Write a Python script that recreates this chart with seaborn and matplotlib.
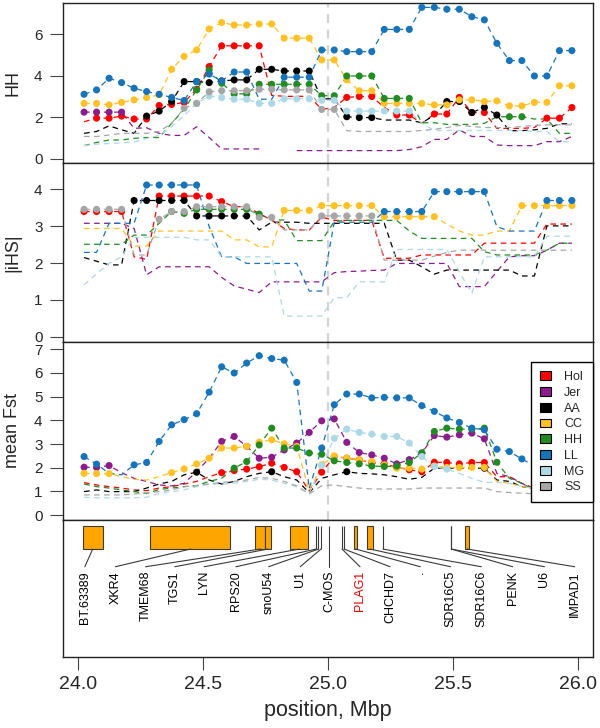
import numpy as np
import pandas as pd
import matplotlib
matplotlib.use("Agg")
import matplotlib.pyplot as plt
import seaborn as sns
from matplotlib.patches import Patch, Rectangle

NAN = np.nan

# window centres, Mbp
POS = [24.025, 24.075, 24.125, 24.175, 24.225, 24.275, 24.325, 24.375, 24.425, 24.475,
       24.525, 24.575, 24.625, 24.675, 24.725, 24.775, 24.825, 24.875, 24.925, 24.975,
       25.025, 25.075, 25.125, 25.175, 25.225, 25.275, 25.325, 25.375, 25.425, 25.475,
       25.525, 25.575, 25.625, 25.675, 25.725, 25.775, 25.825, 25.875, 25.925, 25.975]

BREEDS = ["Hol", "Jer", "AA", "CC", "HH", "LL", "MG", "SS"]
BREED_COLORS = ["#ff0000", "#8b1c8b", "#000000", "#ffc125",
                "#228b22", "#1874b8", "#add8e6", "#a6a6a6"]

# ---- HH (haplotype homozygosity) ----
HOL_HOM = [1.79, 1.96, 1.96, 2.06, 1.92, 1.92, 2.57, 2.62, 2.72, 3.35,
           4.44, 5.44, 5.44, 5.44, 5.44, 3.06, 3.01, 3.01, 3.01, 2.38,
           2.48, 2.96, 3.0, 3.0, 2.48, 2.11, 2.11, 1.71, 2.16, 2.16,
           2.96, 2.23, 2.23, 1.47, 1.47, 1.47, 1.51, 1.96, 1.96, 2.47]
JER_HOM = [2.25, 2.25, 2.25, 2.25, 1.47, 1.5, 1.23, 1.13, 1.13, 1.55,
           1.03, 0.48, 0.48, 0.48, 0.48, NAN, NAN, 0.4, 0.4, 0.4,
           0.4, 0.4, 0.4, 0.4, 0.4, 0.4, 0.45, 0.59, 0.94, 0.94,
           1.4, 1.08, 1.08, 0.67, 0.64, 0.64, 0.64, 0.83, 0.83, 1.08]
AA_HOM = [1.23, 1.32, 1.59, 1.4, 1.23, 2.06, 2.3, 2.76, 3.72, 3.72,
          3.67, 3.75, 3.8, 3.8, 4.31, 4.31, 4.23, 4.23, 4.23, 2.89,
          2.89, 2.03, 1.99, 1.99, 1.87, 1.87, 1.87, 1.74, 2.09, 2.76,
          2.76, 2.23, 2.48, 2.11, 1.36, 1.36, 1.4, 1.47, 1.69, 1.69]
CC_HOM = [2.67, 2.67, 2.6, 2.72, 2.84, 2.95, 3.08, 4.31, 4.93, 5.24,
          6.25, 6.56, 6.44, 6.44, 6.49, 6.49, 5.81, 5.81, 5.81, 4.76,
          4.76, 3.8, 3.28, 3.28, 2.67, 2.67, 2.67, 2.67, 2.6, 2.6,
          2.84, 2.84, 2.76, 2.79, 2.55, 2.55, 2.72, 2.72, 3.52, 3.52]
HH_HOM = [0.64, 0.79, 0.91, 0.91, 0.99, 1.03, 1.03, 1.71, 2.38, 3.32,
          4.28, 3.64, 3.13, 3.13, 3.59, 3.59, 3.59, 3.59, 3.59, 3.04,
          3.04, 3.99, 3.99, 3.99, 2.91, 2.91, 2.91, 1.74, 1.74, 1.66,
          1.66, 1.66, 1.71, 2.03, 2.03, 2.03, 1.92, 1.92, 1.23, 1.23]
LL_HOM = [3.11, 3.32, 3.88, 3.67, 3.4, 3.24, 3.11, 2.96, 2.81, 3.72,
          4.08, 3.75, 4.18, 4.18, 2.87, 2.87, 3.93, 3.93, 3.93, 5.24,
          5.24, 5.16, 5.16, 5.16, 6.23, 6.23, 6.23, 7.29, 7.29, 7.2,
          7.2, 6.84, 6.69, 5.56, 4.73, 4.73, 3.99, 3.99, 5.21, 5.21]
MG_HOM = [0.64, 0.71, 0.74, 0.77, 0.82, 0.98, 1.14, 1.55, 2.09, 2.67,
          3.03, 2.95, 2.87, 2.87, 2.67, 2.67, 2.89, 2.89, 2.89, 2.82,
          2.82, 2.3, 2.3, 2.3, 2.3, 2.3, 2.3, 1.71, 1.37, 1.37,
          1.37, 1.37, 1.37, 1.37, 1.37, 1.37, 1.32, 1.32, 0.83, 0.83]
SS_HOM = [1.08, 1.08, 1.15, 1.23, 1.23, 1.23, 1.32, 1.71, 2.44, 2.67,
          3.23, 3.28, 3.28, 3.28, 3.35, 3.35, 3.32, 3.32, 3.32, 2.38,
          2.38, 1.36, 1.32, 1.32, 1.32, 1.32, 1.32, 1.37, 1.42, 1.51,
          1.61, 1.56, 1.51, 1.51, 1.51, 1.56, 1.61, 1.64, 1.64, 1.64]

# significant windows (1 = dot drawn), 10 windows per group
HOL_HOM_SIG = "0111111111 1111100000 0111011011 1110000111"
JER_HOM_SIG = "1111000000 0000000000 0000000000 0000000000"
AA_HOM_SIG = "0000011111 1111111110 0111000001 1111000000"
CC_HOM_SIG = "1111111111 1111111111 1111111111 1111111111"
HH_HOM_SIG = "0000000001 1111111111 1111111000 0000110000"
LL_HOM_SIG = "1111111111 1111001111 1111111111 1111111111"
MG_HOM_SIG = "0000000001 1111111111 1111111000 0000000000"
SS_HOM_SIG = "0000000011 1111111111 1000000000 0000000000"

# ---- |iHS| ----
HOL_IHS = [3.4, 3.4, 3.4, 3.4, 2.17, 2.1, 3.82, 3.82, 3.82, 3.82,
           3.82, 3.67, 3.53, 3.53, 3.35, 3.16, 2.94, 2.9, 2.9, 3.25,
           3.16, 3.16, 3.16, 3.16, 2.13, 2.13, 2.13, 2.22, 2.22, 2.22,
           2.22, 2.22, 2.54, 2.54, 2.54, 2.54, 2.54, 3.06, 3.06, 3.06]
JER_IHS = [3.08, 3.08, 3.08, 3.08, 2.94, 1.68, 1.9, 1.9, 1.9, 1.9,
           1.9, 1.61, 1.38, 1.29, 1.2, 1.49, 1.49, 1.49, 1.49, 1.49,
           1.74, 1.77, 1.78, 1.8, 1.81, 1.99, 1.99, 1.99, 1.99, 1.99,
           1.36, 1.36, 1.36, 1.77, 2.17, 2.2, 2.2, 2.35, 2.54, 2.54]
AA_IHS = [2.15, 2.05, 1.95, 1.95, 3.7, 3.7, 3.7, 3.7, 3.7, 3.28,
          3.28, 3.28, 3.28, 3.28, 2.9, 3.11, 3.11, 3.11, 3.08, 3.08,
          3.08, 3.08, 3.08, 3.08, 3.08, 2.08, 2.08, 1.9, 1.7, 1.81,
          1.81, 1.81, 1.81, 1.81, 1.81, 1.65, 1.65, 3.01, 3.01, 3.01]
CC_IHS = [2.94, 2.94, 2.94, 2.94, 2.46, 2.46, 2.87, 2.87, 2.87, 2.87,
          2.87, 2.87, 2.63, 2.63, 2.44, 2.44, 3.43, 3.43, 3.43, 3.56,
          3.56, 3.56, 3.56, 3.56, 3.26, 3.26, 3.26, 3.26, 3.26, 3.06,
          2.87, 2.76, 2.76, 2.87, 2.87, 3.56, 3.56, 3.56, 3.56, 3.56]
HH_IHS = [2.51, 2.51, 2.51, 2.51, 2.76, 2.76, 3.08, 3.4, 3.35, 3.46,
          3.46, 3.46, 3.46, 3.46, 3.33, 3.17, 3.17, 2.61, 2.61, 2.61,
          3.13, 3.16, 3.16, 3.16, 3.16, 3.16, 2.87, 2.67, 2.67, 2.67,
          2.67, 2.67, 2.31, 2.22, 2.22, 2.22, 2.22, 2.35, 2.54, 2.54]
LL_IHS = [2.29, 2.29, 3.08, 3.08, 3.08, 4.12, 4.12, 4.12, 4.12, 4.12,
          2.99, 2.17, 2.17, 1.99, 1.99, 1.99, 1.99, 1.99, 1.24, 1.24,
          3.11, 3.11, 3.11, 3.11, 3.4, 3.4, 3.4, 3.4, 3.94, 3.94,
          3.94, 3.94, 3.94, 2.99, 2.87, 2.87, 2.87, 3.7, 3.7, 3.7]
MG_IHS = [1.41, 1.71, 1.99, 2.17, 2.7, 2.7, 2.7, 2.7, 2.7, 2.63,
          2.63, 2.17, 2.17, 2.17, 2.17, 2.17, 0.56, 0.56, 0.56, 0.56,
          1.06, 1.06, 1.49, 1.49, 1.49, 2.37, 2.37, 2.37, 2.37, 2.37,
          1.76, 1.18, 2.17, 2.17, 2.17, 2.17, 2.17, 2.73, 2.73, 2.73]
SS_IHS = [3.46, 3.46, 3.46, 3.46, 2.22, 2.22, 3.19, 3.4, 3.4, 3.53,
          3.53, 3.53, 3.53, 3.53, 3.24, 3.24, 2.9, 2.9, 2.9, 3.28,
          3.28, 3.28, 3.28, 3.28, 2.08, 2.08, 2.08, 2.08, 2.19, 2.29,
          2.35, 2.35, 2.35, 2.35, 2.35, 2.35, 2.35, 2.35, 2.35, 2.35]

HOL_IHS_SIG = "1111001111 1100000000 0000000000 0000000000"
JER_IHS_SIG = "0000000000 0000000000 0000000000 0000000000"
AA_IHS_SIG = "0000111111 1111000000 0000000000 0000000000"
CC_IHS_SIG = "0000000000 0000001111 1111111110 0000011111"
HH_IHS_SIG = "0000000111 1111100000 0000000000 0000000000"
LL_IHS_SIG = "0000011111 0000000000 0000111111 1110000111"
MG_IHS_SIG = "0000000000 0000000000 0000000000 0000000000"
SS_IHS_SIG = "1111001111 1111110001 1111000000 0000000000"

# ---- mean Fst ----
HOL_FST = [1.37, 1.27, 1.2, 1.14, 1.06, 1.03, 1.14, 1.2, 1.31, 1.42,
           1.62, 1.79, 1.88, 1.94, 2.04, 2.19, 2.01, 1.83, 1.02, 1.81,
           2.47, 2.4, 2.33, 2.22, 2.16, 2.02, 1.91, 1.83, 2.23, 2.22,
           2.16, 2.22, 2.22, 1.62, 1.62, 1.34, 1.13, 1.07, 1.02, 1.02]
JER_FST = [2.02, 2.01, 2.09, 1.79, 1.55, 1.42, 1.27, 1.23, 1.34, 1.83,
           2.4, 3.11, 3.32, 2.9, 2.4, 2.44, 2.75, 3.04, 3.49, 3.98,
           4.06, 3.07, 2.64, 2.54, 2.4, 2.16, 2.34, 2.62, 3.36, 3.29,
           3.39, 3.46, 3.22, 1.76, 1.62, 1.34, 1.06, 0.91, 0.91, 0.99]
AA_FST = [0.99, 1.06, 0.99, 0.99, 0.99, 1.14, 1.31, 1.42, 1.7, 1.81,
          1.48, 1.31, 1.42, 1.62, 1.76, 1.83, 1.62, 1.48, 0.94, 1.55,
          1.7, 1.83, 1.76, 1.74, 1.7, 1.62, 1.51, 1.59, 1.98, 1.98,
          1.98, 1.98, 1.98, 1.48, 1.42, 1.2, 1.14, 1.07, 1.07, 1.07]
CC_FST = [1.76, 1.75, 1.75, 1.62, 1.51, 1.48, 1.62, 1.79, 1.95, 2.16,
          2.4, 2.83, 2.83, 2.9, 3.08, 3.18, 3.01, 2.9, 1.02, 2.12,
          2.5, 2.4, 2.33, 2.26, 2.12, 1.98, 1.98, 1.94, 2.07, 2.01,
          2.01, 2.01, 2.01, 1.42, 1.34, 1.2, 1.14, 1.07, 1.07, 1.07]
HH_FST = [1.31, 1.2, 1.14, 1.06, 0.99, 0.91, 1.08, 1.14, 1.2, 1.24,
          1.42, 1.55, 1.98, 2.26, 2.96, 3.67, 2.83, 2.83, 2.62, 2.57,
          2.29, 2.22, 2.16, 2.07, 2.05, 2.07, 2.22, 2.62, 3.53, 3.67,
          3.63, 3.63, 3.67, 2.23, 1.55, 1.34, 1.06, 0.99, 0.99, 0.99]
LL_FST = [2.47, 2.15, 1.76, 1.7, 2.12, 2.22, 3.11, 3.81, 4.03, 4.28,
          5.19, 6.26, 6.0, 6.42, 6.73, 6.61, 6.54, 5.6, 1.12, 2.83,
          4.66, 5.11, 5.11, 4.95, 4.97, 4.95, 4.95, 4.62, 4.38, 4.1,
          3.91, 3.67, 3.6, 2.78, 2.68, 2.37, 2.07, 1.79, 1.7, 1.6]
MG_FST = [0.75, 0.73, 0.73, 0.73, 0.73, 0.75, 0.91, 0.99, 1.06, 1.2,
          1.31, 1.31, 1.34, 1.42, 1.51, 1.48, 1.34, 1.2, 0.91, 2.09,
          3.24, 3.63, 3.49, 3.42, 3.32, 3.32, 3.04, 2.47, 2.05, 1.94,
          1.76, 1.55, 1.38, 1.38, 1.34, 1.21, 1.12, 1.07, 1.02, 1.02]
SS_FST = [0.85, 0.85, 0.85, 0.85, 0.89, 0.93, 0.99, 1.06, 1.2, 1.24,
          1.31, 1.38, 1.42, 1.48, 1.59, 1.55, 1.42, 1.23, 0.89, 1.24,
          1.27, 1.2, 1.14, 1.1, 1.1, 1.1, 1.1, 1.14, 1.14, 1.14,
          1.14, 1.14, 1.14, 0.99, 0.95, 0.92, 0.9, 0.89, 0.89, 0.89]

HOL_FST_SIG = "0000000000 0111111101 1111111111 1110000000"
JER_FST_SIG = "1110000000 0111111111 1111111111 1110000000"
AA_FST_SIG = "0000000001 0000010000 0100000000 0010000000"
CC_FST_SIG = "1110000111 1111111101 1111111111 1110000000"
HH_FST_SIG = "0000000000 0011111111 1111111111 1111000000"
LL_FST_SIG = "1100111111 1111111101 1111111111 1111111111"
MG_FST_SIG = "0000000000 0000000001 1111111111 0000000000"
SS_FST_SIG = "0000000000 0000000000 0000000000 0000000000"

# ---- gene track ----
GENES = ["BT.63389", "XKR4", "TMEM68", "TGS1", "LYN", "RPS20", "snoU54", "U1",
         "C-MOS", "PLAG1", "CHCHD7", ".", "SDR16C5", "SDR16C6", "PENK", "U6", "IMPAD1"]
GENE_START = [24.019, 24.290, 24.710, 24.748, 24.850, 24.953, 24.962, 24.972,
              25.004, 25.056, 25.064, 25.105, 25.156, 25.220, 25.493, 25.493, 25.548]
GENE_END = [24.100, 24.610, 24.748, 24.772, 24.920, 24.953, 24.962, 24.972,
            25.004, 25.056, 25.064, 25.117, 25.180, 25.220, 25.493, 25.493, 25.565]
LABEL_X = [24.028, 24.150, 24.271, 24.388, 24.505, 24.632, 24.763, 24.889, 25.004,
           25.128, 25.248, 25.369, 25.490, 25.613, 25.738, 25.865, 25.986]
HIGHLIGHT = "PLAG1"

XLIM = (23.942, 26.058)


def to_long(values, flags):
    rows = []
    for breed, vals, sig in zip(BREEDS, values, flags):
        sig = sig.replace(" ", "")
        if len(vals) != len(POS) or len(sig) != len(POS):
            raise ValueError(f"{breed}: {len(vals)} values, {len(sig)} flags")
        seg = 0
        for x, v, s in zip(POS, vals, sig):
            if np.isnan(v):
                seg += 1
                continue
            rows.append({"breed": breed, "pos": x, "value": v,
                         "sig": s == "1", "seg": f"{breed}_{seg}"})
    return pd.DataFrame(rows)


sns.set_theme(style="ticks")
plt.rcParams["font.family"] = ["Liberation Sans", "DejaVu Sans"]
plt.rcParams["axes.edgecolor"] = "#222222"
plt.rcParams["axes.linewidth"] = 1.0

palette = dict(zip(BREEDS, BREED_COLORS))

fig = plt.figure(figsize=(6.0, 7.28), dpi=100)
L, W = 0.1055, 0.8823
ax_hom = fig.add_axes([L, 0.7757, W, 0.2202])
ax_ihs = fig.add_axes([L, 0.5309, W, 0.2448])
ax_fst = fig.add_axes([L, 0.2857, W, 0.2452])
ax_gen = fig.add_axes([L, 0.0975, W, 0.1882])

panels = [
    (ax_hom, [HOL_HOM, JER_HOM, AA_HOM, CC_HOM, HH_HOM, LL_HOM, MG_HOM, SS_HOM],
     [HOL_HOM_SIG, JER_HOM_SIG, AA_HOM_SIG, CC_HOM_SIG, HH_HOM_SIG, LL_HOM_SIG, MG_HOM_SIG, SS_HOM_SIG],
     "HH", (-0.21, 7.5), [0, 2, 4, 6]),
    (ax_ihs, [HOL_IHS, JER_IHS, AA_IHS, CC_IHS, HH_IHS, LL_IHS, MG_IHS, SS_IHS],
     [HOL_IHS_SIG, JER_IHS_SIG, AA_IHS_SIG, CC_IHS_SIG, HH_IHS_SIG, LL_IHS_SIG, MG_IHS_SIG, SS_IHS_SIG],
     "|iHS|", (-0.13, 4.71), [0, 1, 2, 3, 4]),
    (ax_fst, [HOL_FST, JER_FST, AA_FST, CC_FST, HH_FST, LL_FST, MG_FST, SS_FST],
     [HOL_FST_SIG, JER_FST_SIG, AA_FST_SIG, CC_FST_SIG, HH_FST_SIG, LL_FST_SIG, MG_FST_SIG, SS_FST_SIG],
     "mean Fst", (-0.21, 7.33), [0, 1, 2, 3, 4, 5, 6, 7]),
]

for ax, values, flags, label, ylim, ticks in panels:
    df = to_long(values, flags)
    ax.axvline(25.0, color="#d3d3d3", lw=1.6, ls=(0, (4, 3)), zorder=0)
    sns.lineplot(data=df, x="pos", y="value", hue="breed", hue_order=BREEDS,
                 palette=palette, units="seg", estimator=None, sort=False,
                 lw=0.9, ls=(0, (4.5, 3.5)), legend=False, ax=ax, zorder=2)
    sns.scatterplot(data=df[df["sig"]], x="pos", y="value", hue="breed",
                    hue_order=BREEDS, palette=palette, s=26, linewidth=0,
                    legend=False, ax=ax, zorder=3)
    ax.set_xlim(*XLIM)
    ax.set_ylim(*ylim)
    ax.set_yticks(ticks)
    ax.set_xticks([])
    ax.set_xlabel("")
    ax.set_ylabel(label, fontsize=13)
    ax.yaxis.set_label_coords(-0.079, 0.5)
    ax.tick_params(axis="y", length=9.5, width=0.8, pad=5.5, labelsize=11,
                   color="#444444")

handles = [Patch(facecolor=c, edgecolor="black", lw=0.8, label=b)
           for b, c in zip(BREEDS, BREED_COLORS)]
leg = ax_fst.legend(handles=handles, loc="upper right", bbox_to_anchor=(1.0, 0.8835),
                    borderaxespad=0, frameon=True, fancybox=False, framealpha=1,
                    edgecolor="black", fontsize=9, handlelength=0.9, handleheight=0.7,
                    handletextpad=1.0, labelspacing=0.3, borderpad=0.7)
leg.get_frame().set_linewidth(1.0)
leg.set_zorder(5)

# gene track
ax_gen.set_xlim(*XLIM)
ax_gen.set_ylim(0, 1)
ax_gen.set_yticks([])
box_lo, box_hi, link_y, text_y = 0.788, 0.956, 0.659, 0.628
for name, start, end, lx in zip(GENES, GENE_START, GENE_END, LABEL_X):
    ax_gen.add_patch(Rectangle((start, box_lo), end - start, box_hi - box_lo,
                               facecolor="#ffa500", edgecolor="#3a3a3a", lw=0.8))
    mid = (start + end) / 2
    ax_gen.plot([mid, lx], [box_lo, link_y], color="#3a3a3a", lw=0.8)
    ax_gen.text(lx, text_y, name, rotation=90, ha="center", va="top", fontsize=9,
                color="#e00000" if name == HIGHLIGHT else "black")

ax_gen.set_xticks([24.0, 24.5, 25.0, 25.5, 26.0])
ax_gen.set_xticklabels(["24.0", "24.5", "25.0", "25.5", "26.0"])
ax_gen.tick_params(axis="x", length=9.5, width=0.8, pad=4.5, labelsize=14, color="#444444")
ax_gen.set_xlabel("position, Mbp", fontsize=15.5, labelpad=5)

fig.savefig("out.png", dpi=100)
